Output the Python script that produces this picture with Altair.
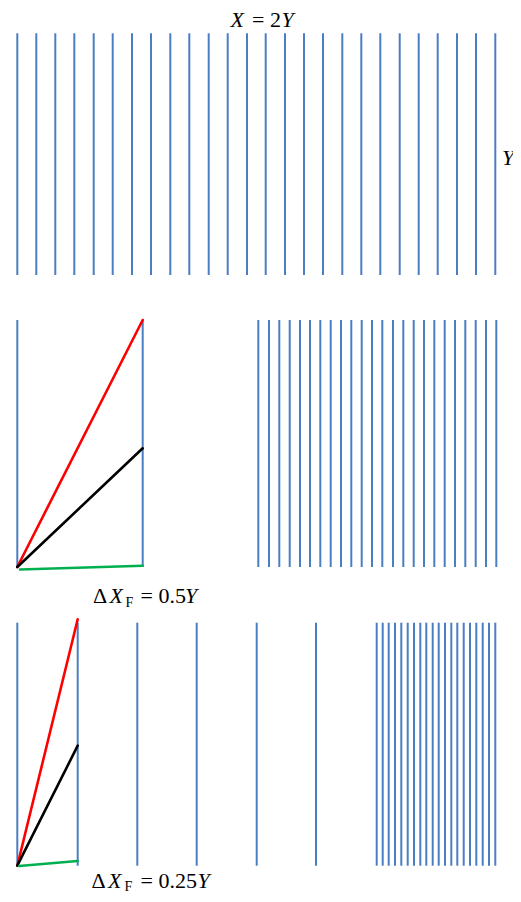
import altair as alt
import pandas as pd

# ---- vertical line positions (page pixel units) ----
top_x = [17.3, 36.3, 55.3, 74.3, 93.7, 112.7, 132.0, 151.0, 170.3, 189.3, 208.7,
         227.7, 247.0, 265.7, 285.0, 304.0, 323.0, 342.3, 361.3, 380.3, 399.7,
         418.7, 437.7, 457.0, 476.0, 495.3]
top_y = (33.3, 275.0)

mid_x = [17.3, 142.7,
         258.3, 269.0, 279.3, 289.7, 300.0, 310.0, 320.3, 330.7, 341.0, 351.3,
         361.7, 372.0, 382.3, 393.0, 403.3, 413.7, 424.0, 434.3, 444.7, 455.0,
         465.3, 475.7, 486.0, 496.3]
mid_y = (320.0, 567.0)

bot_x = [17.3, 77.7, 137.3, 196.7, 256.7, 316.0,
         376.7, 382.7, 388.7, 395.0, 401.3, 407.7, 414.0, 420.3, 426.3, 432.7,
         438.7, 445.0, 451.3, 457.3, 463.7, 470.0, 476.3, 482.7, 489.0, 495.3]
bot_y = (622.7, 865.7)

# ---- sloped segments (start x, start y, end x, end y) ----
seg_names = ["red", "black", "green", "red", "black", "green"]
seg_x1 = [17.3, 17.3, 20.0, 17.3, 17.3, 19.0]
seg_y1 = [567.0, 567.0, 569.5, 865.7, 865.7, 866.0]
seg_x2 = [142.7, 142.7, 142.7, 77.7, 77.7, 77.7]
seg_y2 = [320.0, 448.3, 565.7, 619.3, 745.7, 861.0]
seg_colors = {"red": "#FF0000", "black": "#000000", "green": "#00B050"}

# ---- labels ----
norm_text = ["= 2", "Δ", "= 0.5", "Δ", "= 0.25"]
norm_x = [252.0, 93.0, 140.5, 91.5, 140.5]
norm_y = [26.7, 603.3, 603.3, 888.0, 888.0]

ital_text = ["X", "Y", "Y", "X", "Y", "X", "Y"]
ital_x = [230.5, 281.5, 502.0, 109.5, 185.0, 108.0, 197.5]
ital_y = [26.7, 26.7, 165.0, 603.3, 603.3, 888.0, 888.0]

sub_text = ["F", "F"]
sub_x = [125.5, 124.5]
sub_y = [607.0, 891.0]

rows = []
for xs_, (y1, y2) in [(top_x, top_y), (mid_x, mid_y), (bot_x, bot_y)]:
    for x in xs_:
        rows.append({"x": x, "y": y1, "y2": y2})
vlines = pd.DataFrame(rows)

segs = pd.DataFrame({"name": seg_names, "x": seg_x1, "y": seg_y1,
                     "x2": seg_x2, "y2": seg_y2})

norm = pd.DataFrame({"t": norm_text, "x": norm_x, "y": norm_y})
ital = pd.DataFrame({"t": ital_text, "x": ital_x, "y": ital_y})
sub = pd.DataFrame({"t": sub_text, "x": sub_x, "y": sub_y})

xs = alt.Scale(domain=[8, 513])
ys = alt.Scale(domain=[8, 894], reverse=True)

blue = "#4A7EC2"
FONT = "Liberation Serif"

v = alt.Chart(vlines).mark_rule(color=blue, strokeWidth=2).encode(
    x=alt.X("x:Q", scale=xs, axis=None),
    y=alt.Y("y:Q", scale=ys, axis=None),
    y2="y2:Q",
)

s = alt.Chart(segs).mark_rule(strokeWidth=2.6, strokeCap="round").encode(
    x=alt.X("x:Q", scale=xs, axis=None),
    y=alt.Y("y:Q", scale=ys, axis=None),
    x2="x2:Q",
    y2="y2:Q",
    color=alt.Color("name:N", scale=alt.Scale(domain=list(seg_colors.keys()),
                                              range=list(seg_colors.values())),
                    legend=None),
)

def txt(df, size, style):
    return alt.Chart(df).mark_text(
        font=FONT, fontSize=size, fontStyle=style, align="left",
        baseline="alphabetic", color="#000000"
    ).encode(
        x=alt.X("x:Q", scale=xs, axis=None),
        y=alt.Y("y:Q", scale=ys, axis=None),
        text="t:N",
    )

chart = alt.layer(
    v, s,
    txt(norm, 22, "normal"),
    txt(ital, 22, "italic"),
    txt(sub, 14, "normal"),
).properties(
    width=505, height=886, padding=0,
    autosize=alt.AutoSizeParams(type="none"),
).configure_view(stroke=None)

chart.save("out.html", embed_options={"renderer": "svg", "actions": False})
